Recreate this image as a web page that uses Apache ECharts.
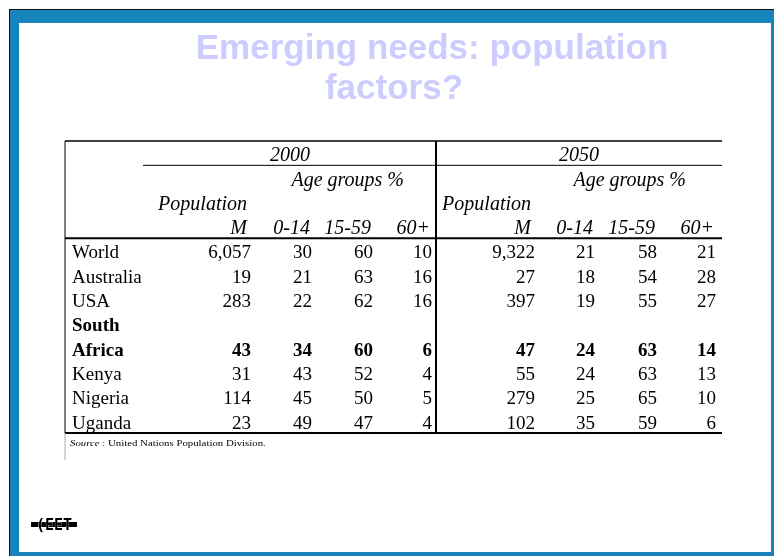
<!DOCTYPE html>
<html>
<head>
<meta charset="utf-8">
<script src="https://cdn.jsdelivr.net/npm/echarts@6/dist/echarts.min.js"></script>
<style>
  html, body { margin: 0; padding: 0; background: #fff; }
  #main { width: 774px; height: 556px; }
</style>
</head>
<body>
<div id="main"></div>
<script>
// table content
const titleLines = ['Emerging needs: population', 'factors?']
const years = ['2000', '2050']
const ageGroups = ['0-14', '15-59', '60+']
const countries = ['World', 'Australia', 'USA', 'South Africa', 'Kenya', 'Nigeria', 'Uganda']
const boldCountries = ['South Africa']
const pop2000 = [6057, 19, 283, 43, 31, 114, 23]
const age0_14_2000 = [30, 21, 22, 34, 43, 45, 49]
const age15_59_2000 = [60, 63, 62, 60, 52, 50, 47]
const age60_2000 = [10, 16, 16, 6, 4, 5, 4]
const pop2050 = [9322, 27, 397, 47, 55, 279, 102]
const age0_14_2050 = [21, 18, 19, 24, 24, 25, 35]
const age15_59_2050 = [58, 54, 55, 63, 63, 65, 59]
const age60_2050 = [21, 28, 27, 14, 13, 10, 6]
const sourceLabel = 'Source'
const sourceText = ' : United Nations Population Division.'

const yearColumns = {
  '2000': [pop2000, age0_14_2000, age15_59_2000, age60_2000],
  '2050': [pop2050, age0_14_2050, age15_59_2050, age60_2050]
}

// layout (table units: x in px from table left, y in text lines)
const tableBox = { left: 65, top: 141, width: 657, height: 292, lines: 12 }
const colRight = { '2000': [186, 247, 308, 367], '2050': [470, 530, 592, 651] }
const yearCenter = { '2000': 225, '2050': 514 }
const agesRight = { '2000': 339, '2050': 621 }
const nameX = 7
const midX = 371
const yearRuleStart = 78
const lineShift = 0.62
const maxNameChars = 10

const serif = '"Liberation Serif", "Times New Roman", serif'
const titleFont = 'bold 35px "Liberation Sans", Arial, sans-serif'
const fontNormal = '19px ' + serif
const fontBold = 'bold 19px ' + serif
const fontItalic = 'italic 20px ' + serif

const cells = []
years.forEach(function (yr) {
  const cols = colRight[yr]
  cells.push({ x: yearCenter[yr], line: 0, text: yr, align: 'center', font: fontItalic })
  cells.push({ x: agesRight[yr], line: 1, text: 'Age groups %', align: 'right', font: fontItalic })
  cells.push({ x: cols[0] - 4, line: 2, text: 'Population', align: 'right', font: fontItalic })
  cells.push({ x: cols[0] - 4, line: 3, text: 'M', align: 'right', font: fontItalic })
  ageGroups.forEach(function (g, j) {
    cells.push({ x: cols[j + 1] - 2, line: 3, text: g, align: 'right', font: fontItalic })
  })
})

let line = 4
countries.forEach(function (name, i) {
  const parts = name.length > maxNameChars ? name.split(' ') : [name]
  const isBold = boldCountries.indexOf(name) >= 0
  parts.forEach(function (p, k) {
    cells.push({ x: nameX, line: line + k, text: p, align: 'left', font: isBold ? fontBold : fontNormal })
  })
  const valueLine = line + parts.length - 1
  years.forEach(function (yr) {
    yearColumns[yr].forEach(function (arr, j) {
      cells.push({
        x: colRight[yr][j],
        line: valueLine,
        text: arr[i].toLocaleString('en-US'),
        align: 'right',
        font: isBold ? fontBold : fontNormal
      })
    })
  })
  line += parts.length
})

// rules: x1, y1, x2, y2, width, colour
const rules = [
  [0, 0, tableBox.width, 0, 1.5, '#000'],
  [yearRuleStart, 1, tableBox.width, 1, 1, '#000'],
  [0, 4, tableBox.width, 4, 2, '#000'],
  [0, 12, tableBox.width, 12, 2, '#000'],
  [0, 0, 0, 12, 1, '#000'],
  [0, 12, 0, 13.1, 1, '#aaa'],
  [midX, 0, midX, 12, 2, '#000']
]

const chart = echarts.init(document.getElementById('main'))

chart.setOption({
  animation: false,
  grid: {
    left: tableBox.left,
    top: tableBox.top,
    width: tableBox.width,
    height: tableBox.height
  },
  xAxis: { type: 'value', min: 0, max: tableBox.width, show: false },
  yAxis: { type: 'value', min: 0, max: tableBox.lines, inverse: true, show: false },
  graphic: [
    { type: 'rect', left: 9, top: 9, shape: { width: 765, height: 547 }, style: { fill: '#111' }, z: -10 },
    { type: 'rect', left: 10, top: 10, shape: { width: 764, height: 546 }, style: { fill: '#1785bc' }, z: -9 },
    { type: 'rect', left: 19, top: 23, shape: { width: 752, height: 529 }, style: { fill: '#fff' }, z: -8 },
    {
      type: 'text', x: 432, y: 49,
      style: { text: titleLines[0], fill: '#ccccff', font: titleFont, align: 'center', verticalAlign: 'middle' }
    },
    {
      type: 'text', x: 394, y: 89,
      style: { text: titleLines[1], fill: '#ccccff', font: titleFont, align: 'center', verticalAlign: 'middle' }
    },
    { type: 'rect', left: 31, top: 522, shape: { width: 46, height: 5 }, style: { fill: '#000' } },
    {
      type: 'text', x: 54, y: 526,
      style: { text: '(EET', fill: '#000', stroke: '#fff', lineWidth: 0.6, font: 'bold 15px "DejaVu Sans Mono", monospace', align: 'center', verticalAlign: 'middle' }
    }
  ],
  series: [
    {
      type: 'custom',
      data: rules.map(function (r) { return [r[0], r[1]] }),
      renderItem: function (params, api) {
        const r = rules[params.dataIndex]
        const p1 = api.coord([r[0], r[1]])
        const p2 = api.coord([r[2], r[3]])
        return {
          type: 'line',
          shape: { x1: p1[0], y1: p1[1], x2: p2[0], y2: p2[1] },
          style: { stroke: r[5], lineWidth: r[4] }
        }
      },
      silent: true
    },
    {
      type: 'custom',
      data: cells.map(function (c) { return [c.x, c.line] }),
      renderItem: function (params, api) {
        const c = cells[params.dataIndex]
        const p = api.coord([c.x, c.line + lineShift])
        return {
          type: 'text',
          x: p[0],
          y: p[1],
          style: { text: c.text, fill: '#000', font: c.font, align: c.align, verticalAlign: 'middle' }
        }
      },
      silent: true
    },
    {
      type: 'custom',
      data: [[5, 12.42]],
      renderItem: function (params, api) {
        const p = api.coord([5, 12.42])
        return {
          type: 'text',
          x: p[0],
          y: p[1],
          scaleX: 1.2,
          style: {
            text: '{i|' + sourceLabel + '}' + sourceText,
            fill: '#000',
            font: '9px ' + serif,
            align: 'left',
            verticalAlign: 'middle',
            rich: { i: { fontStyle: 'italic', fontSize: 9, fontFamily: serif } }
          }
        }
      },
      silent: true
    }
  ]
})
</script>
</body>
</html>
